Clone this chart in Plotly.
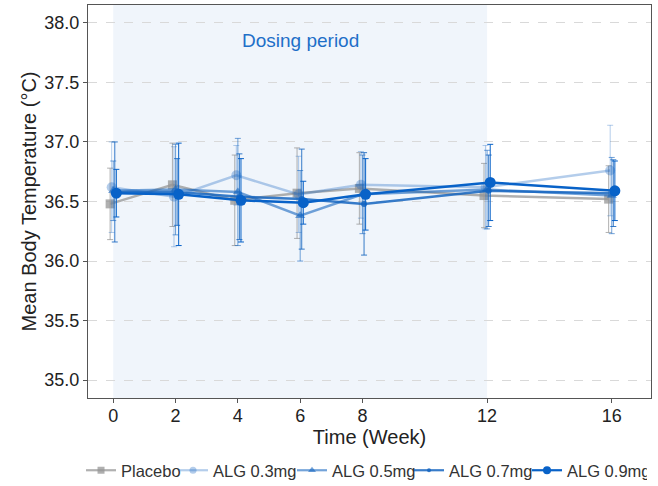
import plotly.graph_objects as go

weeks = [0, 2, 4, 6, 8, 12, 16]
tick_vals = [0, 2, 4, 6, 8, 12, 16]

placebo = [36.48, 36.64, 36.51, 36.57, 36.61, 36.55, 36.52]
alg03 = [36.62, 36.54, 36.72, 36.56, 36.64, 36.62, 36.76]
alg05 = [36.59, 36.60, 36.58, 36.38, 36.56, 36.60, 36.55]
alg07 = [36.58, 36.58, 36.54, 36.52, 36.48, 36.59, 36.57]
alg09 = [36.57, 36.56, 36.51, 36.49, 36.56, 36.66, 36.59]

placebo_sd = [0.30, 0.35, 0.38, 0.38, 0.30, 0.27, 0.28]
alg03_sd = [0.38, 0.42, 0.25, 0.32, 0.28, 0.35, 0.38]
alg05_sd = [0.25, 0.38, 0.45, 0.38, 0.33, 0.33, 0.32]
alg07_sd = [0.42, 0.28, 0.36, 0.42, 0.43, 0.30, 0.28]
alg09_sd = [0.20, 0.43, 0.35, 0.18, 0.30, 0.32, 0.25]

names = ["Placebo", "ALG 0.3mg", "ALG 0.5mg", "ALG 0.7mg", "ALG 0.9mg"]
series = [placebo, alg03, alg05, alg07, alg09]
sds = [placebo_sd, alg03_sd, alg05_sd, alg07_sd, alg09_sd]
colors = ["rgba(150,150,150,0.75)", "rgba(21,101,192,0.32)", "rgba(21,101,192,0.6)",
          "rgba(21,101,192,0.85)", "rgba(8,98,200,1)"]
symbols = ["square", "circle", "triangle-up", "circle", "circle"]
msizes = [9, 10, 9, 6, 11]
legend_msizes = [7, 7, 7, 4, 8]
offsets = [-0.1, -0.05, 0.0, 0.05, 0.1]
legend_widths = [47, 74, 72, 73, 75]

FONT = "Liberation Sans, Arial, sans-serif"

fig = go.Figure()
for name, ys, sd, c, s, ms, off in zip(names, series, sds, colors, symbols, msizes, offsets):
    fig.add_trace(go.Scatter(
        x=[w + off for w in weeks], y=ys, name=name, mode="lines+markers",
        line=dict(color=c, width=2.5),
        marker=dict(color=c, symbol=s, size=ms),
        error_y=dict(type="data", array=sd, visible=True, color=c, thickness=1, width=3),
        showlegend=False,
    ))
# legend entries with compact symbols
for name, c, s, lms, lw in zip(names, colors, symbols, legend_msizes, legend_widths):
    fig.add_trace(go.Scatter(
        x=[None], y=[None], name=name, mode="lines+markers",
        line=dict(color=c, width=2.2), marker=dict(color=c, symbol=s, size=lms),
        legendwidth=lw, showlegend=True,
    ))

fig.add_vrect(x0=0, x1=12, fillcolor="#F0F5FB", opacity=1, layer="below", line_width=0)
fig.add_annotation(x=6.02, y=37.85, text="Dosing period", showarrow=False,
                   font=dict(size=19, color="#1E6FC8", family=FONT))

fig.update_layout(
    width=658, height=486,
    margin=dict(l=88, r=7, t=5, b=88, autoexpand=False),
    plot_bgcolor="white", paper_bgcolor="white",
    font=dict(family=FONT, color="#222"),
    legend=dict(orientation="h", x=-0.0124, xanchor="left", y=-0.14, yanchor="top",
                font=dict(size=16.5, color="#333"), itemwidth=30, tracegroupgap=0),
    showlegend=True,
)
fig.update_xaxes(range=[-0.81, 17.26], tickvals=tick_vals, showgrid=False, zeroline=False,
                 showline=True, mirror=True, linecolor="#555", linewidth=1,
                 ticks="outside", ticklen=4, tickcolor="#555", automargin=False,
                 tickfont=dict(size=18, color="#222"), ticklabelstandoff=-3,
                 title=dict(text="Time (Week)", font=dict(size=20, color="#222"), standoff=4))
fig.update_yaxes(range=[34.85, 38.15], tickvals=[35.0, 35.5, 36.0, 36.5, 37.0, 37.5, 38.0],
                 tickformat=".1f", showgrid=True, gridcolor="#D9D9D9", griddash="dash",
                 zeroline=False, showline=True, mirror=True, linecolor="#555", linewidth=1,
                 ticks="outside", ticklen=4, tickcolor="#555", automargin=False,
                 tickfont=dict(size=18, color="#222"),
                 title=dict(text="Mean Body Temperature (°C)", font=dict(size=20, color="#222"), standoff=2))

fig.write_html("out.html", config={"displayModeBar": False},
               post_script="document.body.style.margin='0';")
